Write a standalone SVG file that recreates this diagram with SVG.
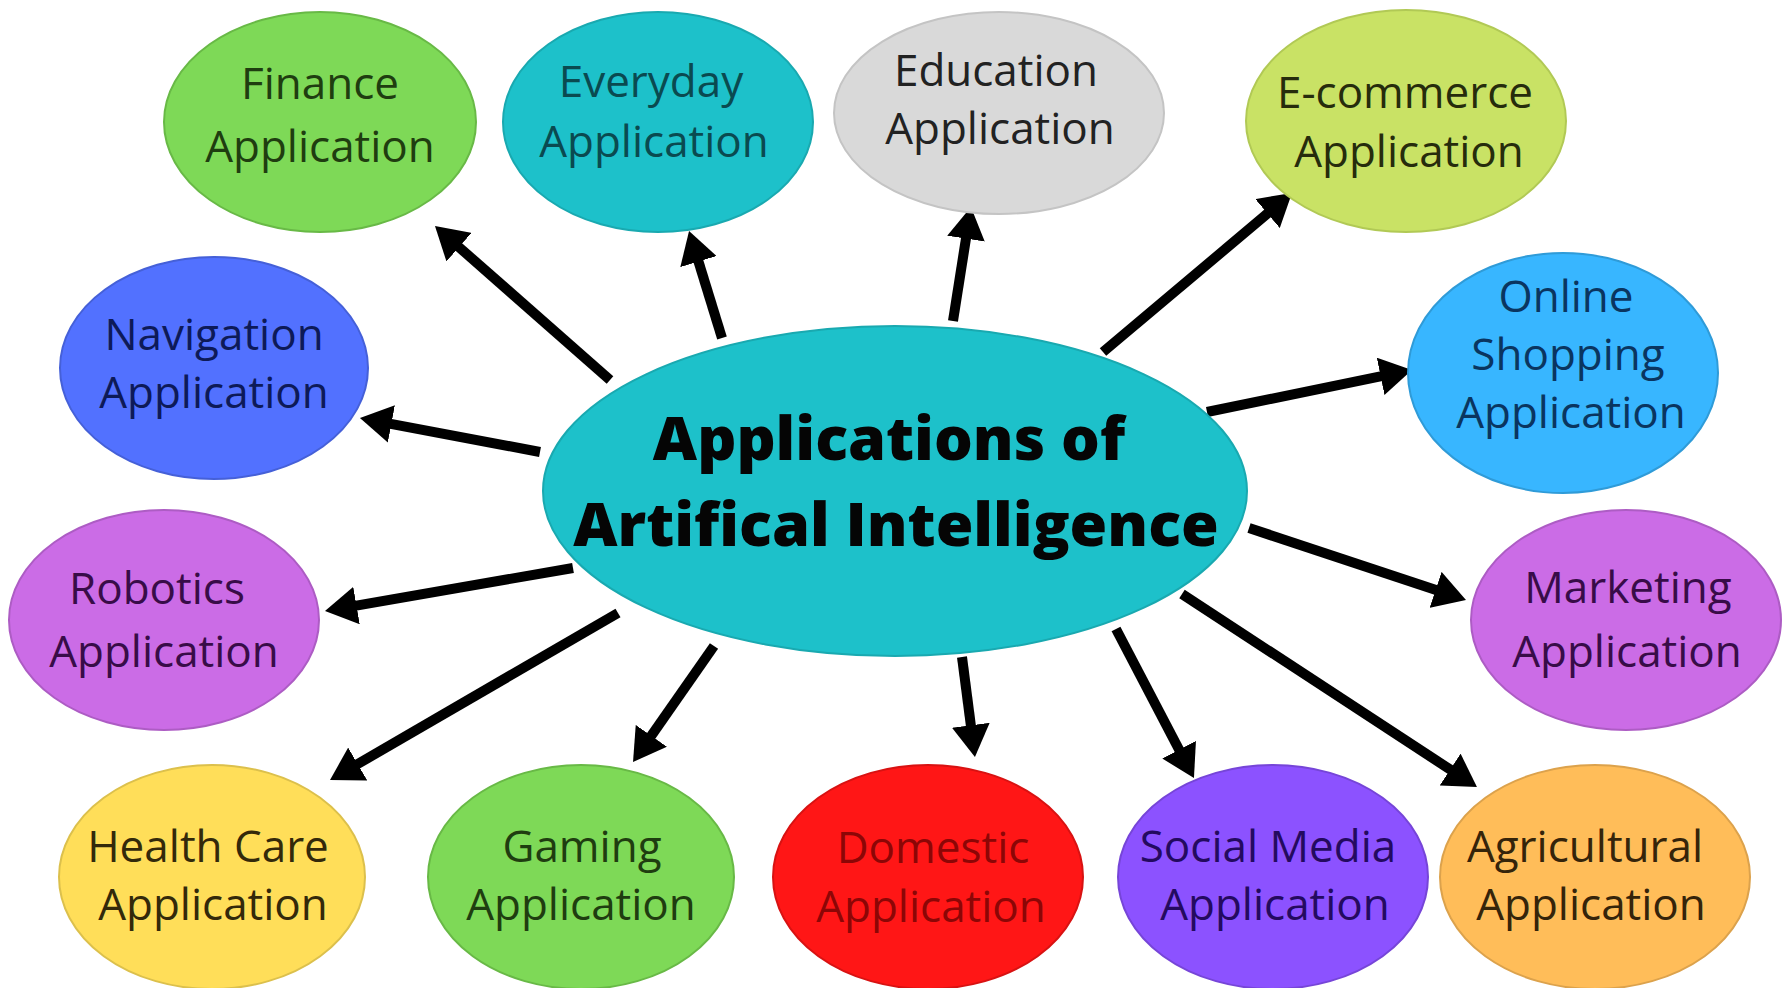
<svg xmlns="http://www.w3.org/2000/svg" width="1783" height="988" viewBox="0 0 1783 988">
<defs>
<style>
.n{stroke-width:2}
.t{font-family:"Open Sans","DejaVu Sans",sans-serif;font-size:44px;text-anchor:middle}
.ct{font-family:"Open Sans","DejaVu Sans",sans-serif;font-size:61px;font-weight:800;text-anchor:middle;fill:#050505}
.c line{stroke:#000;stroke-width:10;marker-end:url(#ah)}
</style>
<marker id="ah" viewBox="0 0 32 38" markerWidth="32" markerHeight="38" refX="6" refY="19" orient="auto" markerUnits="userSpaceOnUse">
<path d="M0,0 L32,19 L0,38 Z" fill="#000"/>
</marker>
</defs>
<rect width="1783" height="988" fill="#fff"/>
<g id="connectors" class="c">
<line x1="610" y1="380" x2="454.5" y2="243.2"/>
<line x1="722" y1="338" x2="696.7" y2="255.8"/>
<line x1="953" y1="321" x2="966.9" y2="232.7"/>
<line x1="1103" y1="352" x2="1272.1" y2="209.7"/>
<line x1="1207" y1="412" x2="1386.5" y2="375.2"/>
<line x1="540" y1="452" x2="385.5" y2="422.8"/>
<line x1="573" y1="568" x2="350.6" y2="606.6"/>
<line x1="618" y1="613" x2="352.5" y2="767"/>
<line x1="714" y1="646" x2="647.9" y2="740.7"/>
<line x1="962" y1="657" x2="971.6" y2="731.2"/>
<line x1="1116" y1="629" x2="1181.9" y2="755"/>
<line x1="1182" y1="594" x2="1455.2" y2="772.8"/>
<line x1="1249" y1="528" x2="1441.3" y2="591.8"/>
</g>
<g id="central">
<ellipse cx="895" cy="491" rx="352" ry="165" fill="#1dc1ca" stroke="#19a9b0" stroke-width="2"/>
<text class="ct" x="889" y="460">Applications of</text>
<text class="ct" x="896" y="546">Artifical Intelligence</text>
</g>
<g id="finance">
<ellipse class="n" cx="320" cy="122" rx="156" ry="110" fill="#7ed957" stroke="#68b946"/>
<text class="t" x="320" y="99" fill="#1f3d10">Finance</text>
<text class="t" x="320" y="162" fill="#1f3d10">Application</text>
</g>
<g id="everyday">
<ellipse class="n" cx="658" cy="122" rx="155" ry="110" fill="#1dc1ca" stroke="#19a9b0"/>
<text class="t" x="651" y="97" fill="#0a4a50" font-size="41">Everyday</text>
<text class="t" x="654" y="157" fill="#0a4a50" font-size="41">Application</text>
</g>
<g id="education">
<ellipse class="n" cx="999" cy="113" rx="165" ry="101" fill="#d9d9d9" stroke="#c4c4c4"/>
<text class="t" x="996" y="86" fill="#222" font-size="41">Education</text>
<text class="t" x="1000" y="144" fill="#222" font-size="41">Application</text>
</g>
<g id="ecommerce">
<ellipse class="n" cx="1406" cy="121" rx="160" ry="111" fill="#c9e265" stroke="#b1c955"/>
<text class="t" x="1405" y="108" fill="#262c0c" font-size="41">E-commerce</text>
<text class="t" x="1409" y="167" fill="#262c0c" font-size="41">Application</text>
</g>
<g id="navigation">
<ellipse class="n" cx="214" cy="368" rx="154" ry="111" fill="#5271ff" stroke="#4560d8"/>
<text class="t" x="214" y="350" fill="#0d1a58">Navigation</text>
<text class="t" x="214" y="408" fill="#0d1a58">Application</text>
</g>
<g id="online">
<ellipse class="n" cx="1563" cy="373" rx="155" ry="120" fill="#38b6ff" stroke="#2f9bd8"/>
<text class="t" x="1566" y="312" fill="#0a3560">Online</text>
<text class="t" x="1568" y="370" fill="#0a3560">Shopping</text>
<text class="t" x="1571" y="428" fill="#0a3560">Application</text>
</g>
<g id="robotics">
<ellipse class="n" cx="164" cy="620" rx="155" ry="110" fill="#cb6ce6" stroke="#ad5cc4"/>
<text class="t" x="157" y="604" fill="#380c48">Robotics</text>
<text class="t" x="164" y="667" fill="#380c48">Application</text>
</g>
<g id="marketing">
<ellipse class="n" cx="1626" cy="620" rx="155" ry="110" fill="#cb6ce6" stroke="#ad5cc4"/>
<text class="t" x="1628" y="603" fill="#380c48">Marketing</text>
<text class="t" x="1627" y="667" fill="#380c48">Application</text>
</g>
<g id="healthcare">
<ellipse class="n" cx="212" cy="877" rx="153" ry="112" fill="#ffde59" stroke="#dcc04c"/>
<text class="t" x="208" y="862" fill="#33290a">Health Care</text>
<text class="t" x="213" y="920" fill="#33290a">Application</text>
</g>
<g id="gaming">
<ellipse class="n" cx="581" cy="877" rx="153" ry="112" fill="#7ed957" stroke="#68b946"/>
<text class="t" x="582" y="862" fill="#1f3d10">Gaming</text>
<text class="t" x="581" y="920" fill="#1f3d10">Application</text>
</g>
<g id="domestic">
<ellipse class="n" cx="928" cy="877" rx="155" ry="112" fill="#ff1616" stroke="#d81212"/>
<text class="t" x="933" y="863" fill="#8c0606">Domestic</text>
<text class="t" x="931" y="922" fill="#8c0606">Application</text>
</g>
<g id="socialmedia">
<ellipse class="n" cx="1273" cy="877" rx="155" ry="112" fill="#8c52ff" stroke="#7645d8"/>
<text class="t" x="1268" y="862" fill="#240a60">Social Media</text>
<text class="t" x="1275" y="920" fill="#240a60">Application</text>
</g>
<g id="agricultural">
<ellipse class="n" cx="1595" cy="877" rx="155" ry="112" fill="#ffbd59" stroke="#dca24c"/>
<text class="t" x="1585" y="862" fill="#35240a">Agricultural</text>
<text class="t" x="1591" y="920" fill="#35240a">Application</text>
</g>
</svg>
